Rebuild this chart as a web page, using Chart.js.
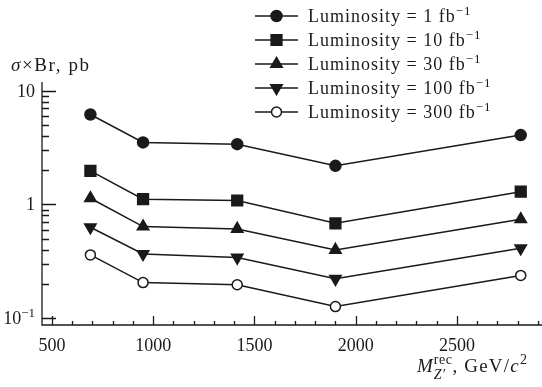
<!DOCTYPE html>
<html>
<head>
<meta charset="utf-8">
<script src="https://cdn.jsdelivr.net/npm/chart.js@4.4.0/dist/chart.umd.min.js"></script>
<style>
  html, body { margin: 0; padding: 0; background: #fff; }
  #wrap { width: 542px; height: 387px; }
</style>
</head>
<body>
<div id="wrap"><canvas id="chart" width="542" height="387"></canvas></div>
<script>
// reconstructed Z' mass points (GeV/c^2) and sigma x Br limits (pb)
const massValues = [690, 950, 1415, 1900, 2815];
const lumi1 = [6.16, 3.50, 3.38, 2.18, 4.06];
const lumi10 = [1.97, 1.11, 1.08, 0.68, 1.29];
const lumi30 = [1.13, 0.637, 0.607, 0.397, 0.738];
const lumi100 = [0.628, 0.366, 0.340, 0.221, 0.411];
const lumi300 = [0.359, 0.205, 0.196, 0.126, 0.237];
const lumiNames = ["1", "10", "30", "100", "300"];

const xTickValues = [500, 1000, 1500, 2000, 2500];
const yTickValues = [10, 1, 0.1];
const yTickLabels = [["10", ""], ["1", ""], ["10", "\u22121"]];

const serif = '"Liberation Serif", "Times New Roman", serif';
const ink = "#1a1a1a";

function fnt(size, style) {
    return (style || "") + " " + size + "px " + serif;
}

const markers = [
    { pointStyle: "circle", radius: 5.5, rotation: 0, fill: ink },
    { pointStyle: "rect", radius: 7.6, rotation: 0, fill: ink },
    { pointStyle: "triangle", radius: 6.6, rotation: 0, fill: ink },
    { pointStyle: "triangle", radius: 6.6, rotation: 180, fill: ink },
    { pointStyle: "circle", radius: 5, rotation: 0, fill: "#fff" },
];

const allSeries = [lumi1, lumi10, lumi30, lumi100, lumi300];

const datasets = allSeries.map((vals, i) => ({
    label: "Luminosity = " + lumiNames[i],
    data: vals.map((v, j) => ({ x: massValues[j], y: v })),
    borderColor: ink,
    borderWidth: 1.5,
    pointStyle: markers[i].pointStyle,
    pointRadius: markers[i].radius,
    pointRotation: markers[i].rotation,
    pointBackgroundColor: markers[i].fill,
    pointBorderColor: ink,
    pointBorderWidth: 1.5,
    tension: 0,
    clip: false,
}));

// draws text pieces one after another, pieces may be raised/lowered
function drawPieces(ctx, x, y, pieces, spacing) {
    ctx.textBaseline = "alphabetic";
    ctx.textAlign = "left";
    ctx.letterSpacing = (spacing || 0) + "px";
    for (const p of pieces) {
        ctx.font = fnt(p.size, p.style);
        ctx.fillText(p.t, x, y + (p.dy || 0));
        x += ctx.measureText(p.t).width;
    }
    ctx.letterSpacing = "0px";
    return x;
}

function piecesWidth(ctx, pieces) {
    let w = 0;
    for (const p of pieces) {
        ctx.font = fnt(p.size, p.style);
        w += ctx.measureText(p.t).width;
    }
    return w;
}

const paperAxes = {
    id: "paperAxes",
    afterDraw(chart) {
        const ctx = chart.ctx;
        const a = chart.chartArea;
        const x = chart.scales.x;
        const y = chart.scales.y;
        ctx.save();
        ctx.strokeStyle = ink;
        ctx.fillStyle = ink;
        ctx.lineWidth = 1.3;

        // axis lines
        ctx.beginPath();
        ctx.moveTo(a.left, a.top);
        ctx.lineTo(a.left, a.bottom);
        ctx.lineTo(a.right, a.bottom);
        ctx.stroke();

        // x ticks, pointing inward
        ctx.beginPath();
        for (let v = 500; v <= x.max; v += 100) {
            const px = Math.round(x.getPixelForValue(v)) + 0.5;
            const len = v % 500 === 0 ? 9 : 4;
            ctx.moveTo(px, a.bottom);
            ctx.lineTo(px, a.bottom - len);
        }
        // y ticks
        for (const d of [0.1, 1]) {
            for (let m = 1; m <= 9; m++) {
                const py = Math.round(y.getPixelForValue(m * d)) + 0.5;
                const len = m === 1 ? 14 : 7;
                ctx.moveTo(a.left, py);
                ctx.lineTo(a.left + len, py);
            }
        }
        const p10 = Math.round(y.getPixelForValue(10)) + 0.5;
        ctx.moveTo(a.left, p10);
        ctx.lineTo(a.left + 14, p10);
        ctx.stroke();

        // x tick labels
        ctx.font = fnt(18);
        ctx.textAlign = "center";
        ctx.textBaseline = "alphabetic";
        xTickValues.forEach(v => {
            ctx.fillText(String(v), x.getPixelForValue(v), a.bottom + 26);
        });

        // y tick labels
        yTickValues.forEach((v, i) => {
            const py = y.getPixelForValue(v);
            const lab = yTickLabels[i];
            const pieces = [{ t: lab[0], size: 18 }];
            if (lab[1]) pieces.push({ t: lab[1], size: 13, dy: -7 });
            const w = piecesWidth(ctx, pieces);
            drawPieces(ctx, a.left - 7 - w, py + 6, pieces);
        });

        // y title
        drawPieces(ctx, 11, 71, [
            { t: "\u03c3", size: 19, style: "italic" },
            { t: "\u00d7", size: 19 },
            { t: "Br, pb", size: 19 },
        ], 1.6);

        // x title
        let tx = 417;
        const ty = 372;
        ctx.font = fnt(19, "italic");
        ctx.fillText("M", tx, ty);
        tx += ctx.measureText("M").width + 1;
        ctx.font = fnt(14);
        ctx.letterSpacing = "0.5px";
        const supW = ctx.measureText("rec").width;
        ctx.fillText("rec", tx, ty - 8);
        ctx.font = fnt(14, "italic");
        const subW = ctx.measureText("Z\u2032").width;
        ctx.fillText("Z\u2032", tx, ty + 7);
        ctx.letterSpacing = "0px";
        tx += Math.max(supW, subW);
        drawPieces(ctx, tx, ty, [
            { t: ", GeV/", size: 19 },
            { t: "c", size: 19, style: "italic" },
            { t: "2", size: 14, dy: -8 },
        ], 1.2);

        // legend
        const rowY = [16, 40, 64, 88, 112];
        rowY.forEach((ry, i) => {
            ctx.lineWidth = 1.5;
            ctx.strokeStyle = ink;
            ctx.beginPath();
            ctx.moveTo(255, ry);
            ctx.lineTo(298, ry);
            ctx.stroke();
            ctx.fillStyle = markers[i].fill;
            ctx.strokeStyle = ink;
            Chart.helpers.drawPoint(ctx, {
                pointStyle: markers[i].pointStyle,
                radius: markers[i].radius,
                rotation: markers[i].rotation,
                borderWidth: 1.5,
            }, 276.5, ry);
            ctx.fillStyle = ink;
            drawPieces(ctx, 308, ry + 6, [
                { t: "Luminosity = " + lumiNames[i] + " fb", size: 18 },
                { t: "\u22121", size: 13, dy: -7 },
            ], 1);
        });
        ctx.restore();
    },
};

new Chart(document.getElementById("chart"), {
    type: "line",
    data: { datasets: datasets },
    options: {
        responsive: false,
        animation: false,
        layout: { autoPadding: false, padding: { left: 42, top: 82, right: 0, bottom: 62 } },
        plugins: {
            legend: { display: false },
            tooltip: { enabled: false },
        },
        scales: {
            x: { type: "linear", min: 451, max: 2920, display: false },
            y: { type: "logarithmic", min: 0.0868, max: 11.9, display: false },
        },
    },
    plugins: [paperAxes],
});
</script>
</body>
</html>
